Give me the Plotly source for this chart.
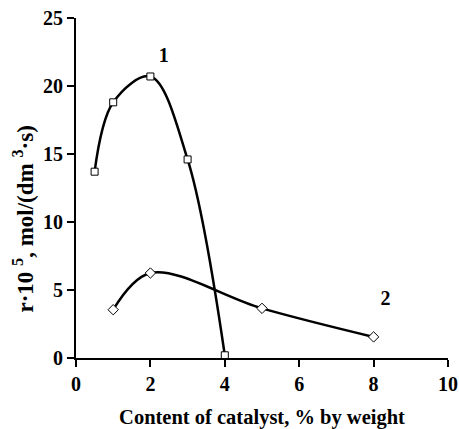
import plotly.graph_objects as go

x1 = [0.5, 1, 2, 3, 4]
y1 = [13.7, 18.8, 20.7, 14.6, 0.2]
x2 = [1, 2, 5, 8]
y2 = [3.55, 6.25, 3.65, 1.55]
labels = ["1", "2"]
label_x = [2.36, 8.32]
label_y = [22.1, 4.25]

FONT = "Liberation Serif"

fig = go.Figure()
fig.add_trace(go.Scatter(x=x1, y=y1, mode="lines+markers",
                         line=dict(color="black", width=2.5, shape="spline", smoothing=1),
                         marker=dict(symbol="square", size=7, color="white",
                                     line=dict(color="black", width=1))))
fig.add_trace(go.Scatter(x=x2, y=y2, mode="lines+markers",
                         line=dict(color="black", width=2.5, shape="spline", smoothing=1),
                         marker=dict(symbol="diamond", size=8, color="white",
                                     line=dict(color="black", width=1))))
fig.add_trace(go.Scatter(x=label_x, y=label_y, mode="text",
                         text=["<b>" + t + "</b>" for t in labels],
                         textfont=dict(family=FONT, size=20, color="black")))

axis_common = dict(showline=True, linecolor="black", linewidth=2, ticks="outside",
                   ticklen=7, tickwidth=2, tickcolor="black", showgrid=False, zeroline=False,
                   tickfont=dict(family=FONT, size=20, color="black", weight=700))

fig.update_layout(
    width=459, height=429,
    margin=dict(l=76, r=11, t=18, b=71),
    paper_bgcolor="white", plot_bgcolor="white",
    showlegend=False,
    xaxis=dict(range=[0, 10], dtick=2, automargin=False, **axis_common,
               title=dict(text="<b>Content of catalyst, % by weight</b>",
                          font=dict(family=FONT, size=20.5, color="black"),
                          standoff=17)),
    yaxis=dict(range=[0, 25], dtick=5, automargin=False, **axis_common),
    annotations=[dict(text="<b>r·10 <sup>5</sup>, mol/(dm <sup>3</sup>·s)</b>",
                      xref="paper", yref="paper", x=-0.14, y=0.41,
                      xanchor="center", yanchor="middle", textangle=-90,
                      showarrow=False,
                      font=dict(family=FONT, size=23, color="black"))],
)

fig.write_html("out.html", config={"displayModeBar": False},
               post_script="document.body.style.margin='0';document.body.style.overflow='hidden';")
